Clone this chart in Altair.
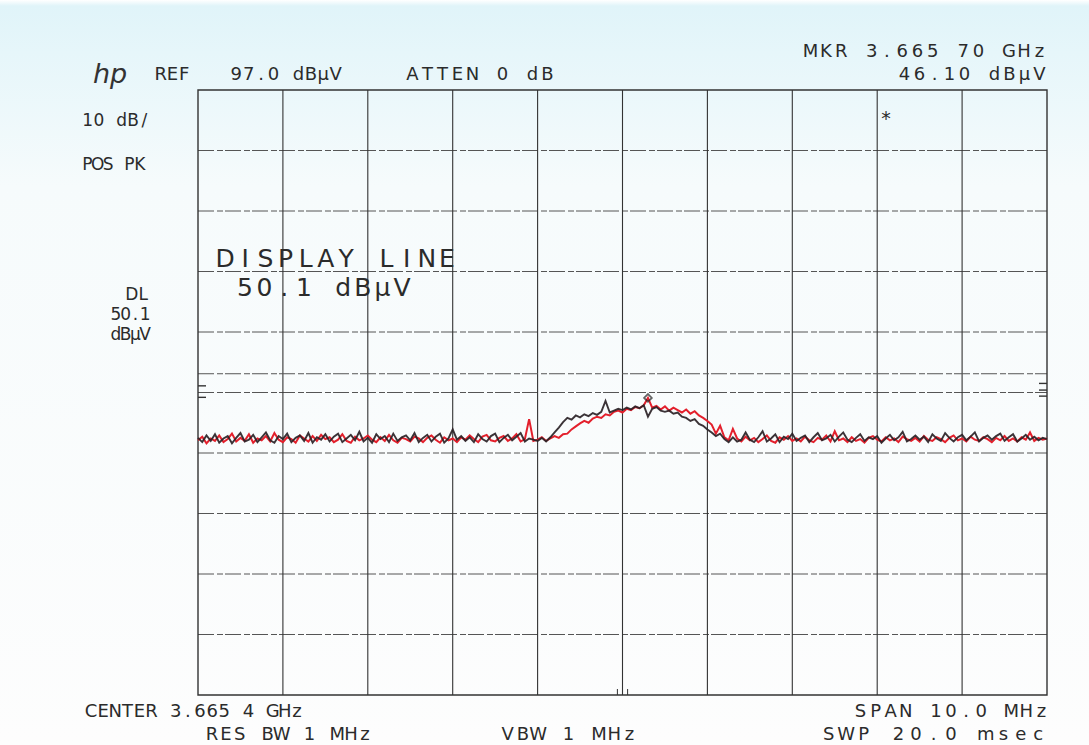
import altair as alt
import numpy as np
import pandas as pd

# Analyzer settings
REF_LEVEL = 97.0          # dBuV at top graticule line
DB_PER_DIV = 10.0
SPAN_MHZ = 10.0           # centre 3.665 4 GHz
DISPLAY_LINE = 50.1       # dBuV
MARKER_MHZ = 0.3          # 3.665 70 GHz relative to centre
MARKER_DB = 46.10

# Plot area in page pixels
OX, OY = 198, 90
W, H = 849, 605

# Trace values (dBuV), 201 sweep points across the span
trace_black = [
    39.5, 38.8, 39.9, 39.0, 40.1, 38.7, 39.4, 39.8, 38.6, 39.5,
    40.3, 38.9, 39.2, 40.0, 38.8, 39.6, 40.4, 39.1, 38.7, 39.8,
    39.3, 40.2, 38.8, 39.5, 39.9, 39.0, 40.3, 38.7, 39.6, 39.2,
    40.1, 38.9, 39.7, 40.2, 38.8, 39.4, 40.0, 39.1, 40.5, 38.9,
    39.5, 38.7, 40.1, 39.3, 39.8, 38.8, 40.2, 39.0, 39.6, 39.9,
    39.1, 40.3, 38.8, 39.5, 40.0, 38.9, 39.7, 40.2, 38.7, 39.4,
    40.9, 39.2, 39.8, 39.0, 39.6, 38.8, 40.1, 39.3, 38.9, 39.8,
    40.2, 38.8, 39.5, 40.0, 39.1, 39.7, 40.3, 38.9, 39.4, 39.2,
    39.0, 39.5, 38.9, 39.6, 40.4, 41.2, 42.1, 42.8, 42.5, 43.2,
    42.9, 43.4, 43.1, 43.6, 43.3, 43.8, 45.6, 43.7, 44.0, 44.3,
    44.1, 44.5, 44.2, 44.7, 44.4, 44.9, 43.0, 44.3, 44.6, 44.0,
    43.8, 44.0, 43.5, 43.7, 43.0, 42.8, 42.3, 42.6, 41.8, 41.5,
    40.9, 40.4, 39.8, 40.2, 39.3, 38.8, 39.6, 38.9, 39.2, 40.4,
    39.2, 38.8, 39.6, 40.6, 38.9, 39.4, 40.1, 38.8, 39.7, 39.3,
    40.2, 39.0, 39.5, 39.9, 38.8, 39.6, 40.3, 39.1, 39.4, 40.0,
    38.9, 39.7, 40.4, 39.2, 38.8, 39.5, 40.1, 39.0, 39.6, 39.3,
    39.8, 38.7, 39.4, 40.0, 39.1, 39.6, 40.5, 38.9, 39.3, 39.9,
    39.2, 39.7, 38.8, 40.1, 39.4, 39.0, 40.3, 39.5, 38.9, 39.6,
    40.0, 39.1, 39.7, 40.4, 38.9, 39.5, 39.9, 39.2, 39.8, 40.2,
    39.0, 39.6, 40.1, 38.9, 39.4, 40.0, 39.2, 39.7, 39.1, 39.5, 39.3,
]

trace_red = [
    39.1, 39.7, 38.6, 39.4, 39.0, 39.9, 38.8, 39.3, 40.2, 38.9,
    39.5, 39.0, 40.1, 38.7, 39.4, 39.1, 39.8, 38.9, 40.3, 39.2,
    38.8, 39.6, 39.3, 38.7, 39.9, 39.4, 38.9, 39.8, 39.0, 40.0,
    39.3, 39.6, 38.8, 39.2, 40.1, 39.0, 38.7, 39.7, 39.1, 39.4,
    39.9, 39.2, 38.8, 39.6, 39.0, 40.0, 39.1, 38.7, 39.5, 39.3,
    38.9, 39.7, 39.4, 38.8, 39.5, 39.9, 39.2, 38.7, 39.6, 39.1,
    39.4, 38.8, 39.6, 39.2, 39.9, 39.3, 38.8, 39.7, 40.0, 39.1,
    38.9, 39.5, 39.8, 39.0, 39.4, 40.1, 38.9, 39.3, 42.6, 39.0,
    39.2, 39.6, 39.0, 39.4, 39.8, 39.5, 40.1, 40.2, 40.9, 41.4,
    41.9, 42.3, 42.0, 42.7, 43.0, 42.8, 43.4, 43.2, 43.8, 44.0,
    43.7, 44.3, 44.1, 44.6, 44.4, 44.9, 46.1, 44.5, 44.8, 44.2,
    44.7, 44.0, 44.5, 44.1, 43.7, 44.2, 43.5, 43.9, 43.2, 42.8,
    42.3, 41.7, 40.2, 41.5, 39.6, 39.1, 41.0, 39.4, 38.9, 39.7,
    39.1, 39.5, 38.8, 39.3, 39.9, 39.0, 38.7, 39.6, 39.2, 39.8,
    39.0, 39.4, 38.9, 39.7, 39.1, 38.8, 39.5, 39.2, 39.9, 38.9,
    40.6, 39.1, 39.4, 38.8, 39.6, 39.0, 39.3, 38.7, 39.5, 39.8,
    39.2, 38.9, 39.6, 39.1, 39.4, 38.8, 39.7, 39.3, 39.0, 39.5,
    38.9, 39.8, 39.2, 39.0, 39.6, 39.3, 38.8, 39.5, 39.9, 39.1,
    39.4, 38.9, 39.7, 39.2, 39.0, 39.6, 39.3, 38.8, 39.5, 39.1,
    39.8, 39.0, 39.4, 38.9, 39.6, 39.2, 40.4, 39.0, 39.5, 39.2, 39.4,
]

# Small ticks on the graticule edges (dBuV)
left_ticks = [48.1, 46.2]
right_ticks = [48.5, 47.4, 46.4]

# Annotation strings: text, left px, right px, baseline px, font size
labels = [
    ("REF", 155, 190, 80, 18),
    ("97.0 dBµV", 230, 342, 80, 18),
    ("ATTEN 0 dB", 405, 555, 80, 18),
    ("MKR 3.665 70 GHz", 803, 1047, 57, 18),
    ("46.10 dBµV", 897, 1047, 80, 18),
    ("10 dB/", 82, 150, 126, 17),
    ("POS PK", 82, 145, 170, 17),
    ("DL", 126, 149, 300, 17),
    ("50.1", 111, 150, 320, 17),
    ("dBµV", 111, 150, 340, 17),
    ("DISPLAY LINE", 215, 457, 267, 25),
    ("50.1 dBµV", 235, 412, 296, 25),
    ("CENTER 3.665 4 GHz", 85, 303, 717, 18),
    ("RES BW 1 MHz", 205, 372, 740, 18),
    ("VBW 1 MHz", 500, 637, 740, 18),
    ("SPAN 10.0 MHz", 853, 1049, 717, 18),
    ("SWP 20.0 msec", 820, 1047, 740, 18),
    ("*", 879, 893, 125, 19),
]

# ---------------------------------------------------------------------------
x_lo, x_hi = -SPAN_MHZ / 2, SPAN_MHZ / 2
y_lo, y_hi = REF_LEVEL - 10 * DB_PER_DIV, REF_LEVEL

xs = alt.Scale(domain=[x_lo, x_hi], nice=False, zero=False)
ys = alt.Scale(domain=[y_lo, y_hi], nice=False, zero=False)

n = len(trace_black)
freq = np.linspace(x_lo, x_hi, n)
df_black = pd.DataFrame({"f": freq, "db": trace_black})
df_red = pd.DataFrame({"f": freq, "db": trace_red})

# paper tint
paper = alt.Chart(pd.DataFrame({"k": [0]})).mark_rect(
    color=alt.Gradient(
        gradient="linear", x1=0, x2=0, y1=0, y2=1,
        stops=[
            alt.GradientStop(offset=0.0, color="#ffffff"),
            alt.GradientStop(offset=0.008, color="#e0f4f9"),
            alt.GradientStop(offset=0.07, color="#e6f6fa"),
            alt.GradientStop(offset=0.25, color="#f6fbfc"),
            alt.GradientStop(offset=1.0, color="#fdfdfd"),
        ],
    )
).encode(
    x=alt.value(-OX), x2=alt.value(1089 - OX),
    y=alt.value(-OY), y2=alt.value(745 - OY),
)

h_vals = [y_lo + DB_PER_DIV * k for k in range(1, 10)]
v_vals = [x_lo + k for k in range(1, 10)]

h_grid = alt.Chart(pd.DataFrame({"db": h_vals})).mark_rule(
    color="#555", strokeWidth=1, strokeDash=[16, 3, 6, 2]
).encode(y=alt.Y("db:Q", scale=ys, axis=None), x=alt.value(0), x2=alt.value(W))

v_grid = alt.Chart(pd.DataFrame({"f": v_vals})).mark_rule(
    color="#333", strokeWidth=1.1
).encode(x=alt.X("f:Q", scale=xs, axis=None), y=alt.value(0), y2=alt.value(H))

border = alt.Chart(pd.DataFrame({"k": [0]})).mark_rect(
    fill=None, stroke="#333", strokeWidth=1.4
).encode(x=alt.value(0), x2=alt.value(W), y=alt.value(0), y2=alt.value(H))

dline = alt.Chart(pd.DataFrame({"db": [DISPLAY_LINE]})).mark_rule(
    color="#555", strokeWidth=1, strokeDash=[16, 3, 6, 2]
).encode(y=alt.Y("db:Q", scale=ys, axis=None), x=alt.value(0), x2=alt.value(W))

lt = alt.Chart(pd.DataFrame({"db": left_ticks})).mark_rule(
    color="#333", strokeWidth=1.4
).encode(y=alt.Y("db:Q", scale=ys, axis=None), x=alt.value(0), x2=alt.value(8))

rt = alt.Chart(pd.DataFrame({"db": right_ticks})).mark_rule(
    color="#333", strokeWidth=1.4
).encode(y=alt.Y("db:Q", scale=ys, axis=None), x=alt.value(W - 8), x2=alt.value(W))

ctr = alt.Chart(pd.DataFrame({"f": [-0.06, 0.0, 0.06]})).mark_rule(
    color="#333", strokeWidth=1
).encode(x=alt.X("f:Q", scale=xs, axis=None), y=alt.value(H - 6), y2=alt.value(H))

red = alt.Chart(df_red).mark_line(
    color="#e3202c", strokeWidth=2.0, strokeJoin="miter"
).encode(x=alt.X("f:Q", scale=xs, axis=None), y=alt.Y("db:Q", scale=ys, axis=None))

black = alt.Chart(df_black).mark_line(
    color="#2a2226", strokeWidth=1.9, opacity=0.92
).encode(x=alt.X("f:Q", scale=xs, axis=None), y=alt.Y("db:Q", scale=ys, axis=None))

marker = alt.Chart(pd.DataFrame({"f": [MARKER_MHZ], "db": [MARKER_DB]})).mark_point(
    shape="diamond", filled=False, size=60, color="#222", strokeWidth=1.7
).encode(x=alt.X("f:Q", scale=xs, axis=None), y=alt.Y("db:Q", scale=ys, axis=None))

# plotter-style lettering, one glyph per cell
rows = []
for text, x0, x1, base, fs in labels:
    pitch = (x1 - x0) / len(text)
    for k, ch in enumerate(text):
        if ch == " ":
            continue
        rows.append({"ch": ch, "px": x0 + pitch * (k + 0.5) - OX,
                     "py": base - OY, "fs": fs})
glyphs = alt.Chart(pd.DataFrame(rows)).mark_text(
    font="DejaVu Sans", color="#2b2b2b", align="center", baseline="alphabetic"
).encode(
    x=alt.X("px:Q", scale=None, axis=None),
    y=alt.Y("py:Q", scale=None, axis=None),
    size=alt.Size("fs:Q", scale=None, legend=None),
    text="ch:N",
)

logo = alt.Chart(pd.DataFrame({"t": ["hp"]})).mark_text(
    font="DejaVu Sans", fontStyle="italic", fontWeight="normal", fontSize=27,
    color="#333", align="left", baseline="alphabetic"
).encode(x=alt.value(93 - OX), y=alt.value(83 - OY), text="t:N")

chart = alt.layer(
    paper, h_grid, v_grid, dline, border, lt, rt, ctr,
    red, black, marker, glyphs, logo
).resolve_scale(
    x="independent", y="independent", size="independent"
).properties(
    width=W, height=H,
    padding={"left": OX, "top": OY, "right": 1089 - OX - W, "bottom": 745 - OY - H},
    autosize=alt.AutoSizeParams(type="none"),
    background="#ffffff",
).configure_view(stroke=None)

chart.save("out.html", embed_options={"renderer": "svg", "actions": False})
